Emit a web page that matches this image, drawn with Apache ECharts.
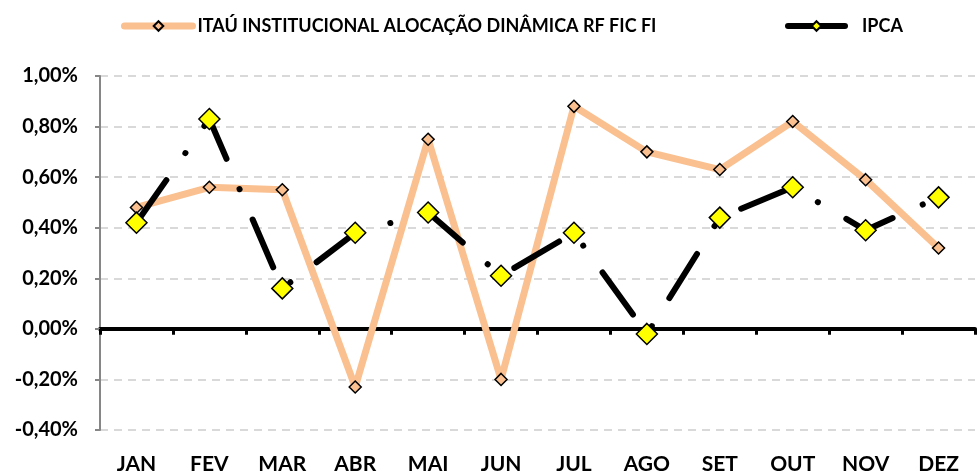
<!DOCTYPE html>
<html>
<head>
<meta charset="utf-8">
<script src="https://cdn.jsdelivr.net/npm/echarts@6/dist/echarts.min.js"></script>
<style>
  html, body { margin: 0; padding: 0; background: #fff; }
  #chart { width: 977px; height: 475px; }
</style>
</head>
<body>
<div id="chart"></div>
<script>
const months = ['JAN', 'FEV', 'MAR', 'ABR', 'MAI', 'JUN', 'JUL', 'AGO', 'SET', 'OUT', 'NOV', 'DEZ'];
const fundName = 'ITAÚ INSTITUCIONAL ALOCAÇÃO DINÂMICA RF FIC FI';
const fundValues = [0.48, 0.56, 0.55, -0.23, 0.75, -0.20, 0.88, 0.70, 0.63, 0.82, 0.59, 0.32];
const ipcaValues = [0.42, 0.83, 0.16, 0.38, 0.46, 0.21, 0.38, -0.02, 0.44, 0.56, 0.39, 0.52];

const font = 'Lato, "Open Sans", sans-serif';

const fmtPct = (v) => v.toFixed(2).replace('.', ',') + '%';

const chart = echarts.init(document.getElementById('chart'));

chart.setOption({
  animation: false,
  textStyle: { fontFamily: font },
  grid: { left: 100, right: 2, top: 76, bottom: 44 },
  legend: [
    {
      data: [fundName],
      left: 116,
      top: 12,
      itemWidth: 68,
      itemHeight: 12,
      lineStyle: { width: 7, cap: 'round' },
      textStyle: { fontFamily: font, fontWeight: 'bold', fontSize: 18, color: '#000' }
    },
    {
      data: ['IPCA'],
      left: 780,
      top: 12,
      itemWidth: 57,
      itemHeight: 12,
      lineStyle: { type: 'solid', width: 6, cap: 'round' },
      textStyle: { fontFamily: font, fontWeight: 'bold', fontSize: 18, color: '#000', padding: [0, 0, 0, 12] }
    }
  ],
  xAxis: [
    {
      type: 'category',
      data: months,
      axisLine: { onZero: true, lineStyle: { color: '#000', width: 4 } },
      axisTick: { show: true, length: 6, lineStyle: { color: '#000', width: 3 } },
      axisLabel: { show: false },
      splitLine: { show: false }
    },
    {
      type: 'category',
      data: months,
      position: 'bottom',
      axisLine: { show: false },
      axisTick: { show: false },
      axisLabel: { margin: 24, fontFamily: font, fontWeight: 'bold', fontSize: 21, color: '#000' }
    }
  ],
  yAxis: {
    type: 'value',
    min: -0.4,
    max: 1.0,
    interval: 0.2,
    axisLine: { show: true, lineStyle: { color: '#868686', width: 2 } },
    axisTick: { show: true, length: 5, lineStyle: { color: '#868686', width: 2 } },
    axisLabel: {
      margin: 22,
      fontFamily: font,
      fontWeight: 'bold',
      fontSize: 20,
      color: '#000',
      formatter: fmtPct
    },
    splitLine: { lineStyle: { color: '#d9d9d9', width: 2, type: [8, 6] } }
  },
  series: [
    {
      name: fundName,
      type: 'line',
      data: fundValues,
      symbol: 'diamond',
      symbolSize: 12,
      lineStyle: { color: '#FAC090', width: 7 },
      itemStyle: { color: '#FAC090', borderColor: '#000', borderWidth: 1.5 },
      z: 2
    },
    {
      name: 'IPCA',
      type: 'line',
      data: ipcaValues,
      symbol: 'diamond',
      symbolSize: 21,
      lineStyle: { color: '#000', width: 6, type: [52, 33, 0.1, 33], cap: 'round' },
      itemStyle: { color: '#FFFF00', borderColor: '#000', borderWidth: 1.5 },
      z: 3
    }
  ]
});
</script>
</body>
</html>
